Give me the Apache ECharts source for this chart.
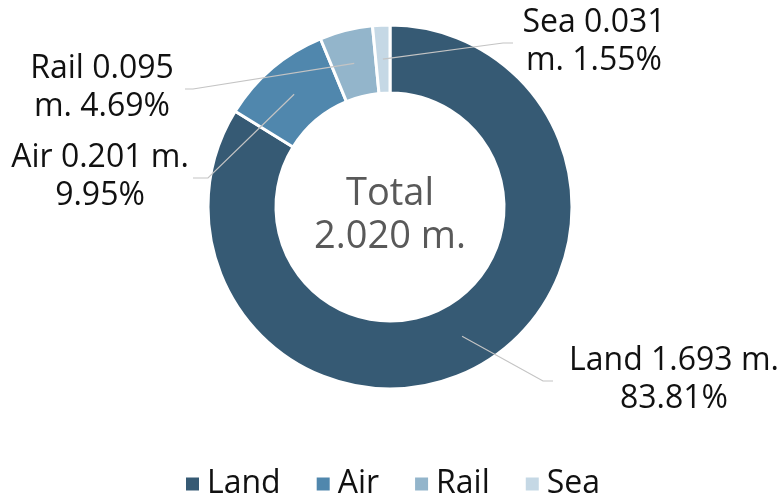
<!DOCTYPE html>
<html>
<head>
<meta charset="utf-8">
<title>Transport share</title>
<script src="https://cdn.jsdelivr.net/npm/echarts@6/dist/echarts.min.js"></script>
<style>
  html, body { margin: 0; padding: 0; background: #fff; }
  #chart { width: 779px; height: 498px; }
</style>
</head>
<body>
<div id="chart"></div>
<script>
// data
const categories = ['Land', 'Air', 'Rail', 'Sea'];
const values = [1.693, 0.201, 0.095, 0.031];
const percents = [83.81, 9.95, 4.69, 1.55];
const unit = 'm.';
// labels that Excel wrapped before the unit
const breakBeforeUnit = [false, false, true, true];

const colors = ['#365a74', '#5087ad', '#93b5cb', '#c5d8e5'];
const FONT = "'Open Sans', 'Noto Sans', sans-serif";

const cx = 390, cy = 207;
const rIn = 114, rOut = 182, rMid = 148;

// where each data label sits (centre of the text block) and where its leader line bends / ends
const labelPos = [
  { x: 674, y: 380, elbowX: 543, endX: 553 },
  { x: 100, y: 177, elbowX: 208, endX: 193 },
  { x: 102, y: 88, elbowX: 193, endX: 185 },
  { x: 594, y: 42, elbowX: 503, endX: 513 }
];

const total = values.reduce((a, b) => a + b, 0);

// mid angle of each slice, clockwise from 12 o'clock
const midAngles = [];
let acc = 0;
values.forEach(v => {
  midAngles.push((acc + v / 2) / total * Math.PI * 2);
  acc += v;
});

const pieData = categories.map((c, i) => ({ name: c, value: values[i] }));

const chart = echarts.init(document.getElementById('chart'));

chart.setOption({
  animation: false,
  color: colors,
  title: {
    text: 'Total\n' + total.toFixed(3) + ' ' + unit,
    left: cx,
    top: 173,
    padding: 0,
    textAlign: 'center',
    textStyle: {
      fontFamily: FONT,
      fontSize: 38,
      fontWeight: 'normal',
      lineHeight: 43,
      color: '#595959'
    }
  },
  legend: {
    data: categories,
    top: 468,
    left: 184,
    padding: 0,
    icon: 'rect',
    itemWidth: 15,
    itemHeight: 15,
    itemGap: 34,
    textStyle: { fontFamily: FONT, fontSize: 32, color: '#111', lineHeight: 32, padding: [0, 0, 0, 2] }
  },
  series: [
    {
      type: 'pie',
      center: [cx, cy],
      radius: [rIn, rOut],
      startAngle: 90,
      clockwise: true,
      silent: true,
      z: 2,
      label: { show: false },
      labelLine: { show: false },
      itemStyle: { borderColor: '#fff', borderWidth: 3 },
      data: pieData
    },
    {
      // invisible copy, only to carry the labels and leader lines from the middle of the ring
      type: 'pie',
      center: [cx, cy],
      radius: [0, rMid],
      startAngle: 90,
      clockwise: true,
      silent: true,
      z: 5,
      avoidLabelOverlap: false,
      itemStyle: { color: 'rgba(0,0,0,0)', borderWidth: 0 },
      label: {
        show: true,
        fontFamily: FONT,
        fontSize: 32,
        lineHeight: 38,
        color: '#111',
        align: 'center',
        formatter: p => {
          const i = p.dataIndex;
          const sep = breakBeforeUnit[i] ? '\n' : ' ';
          const tail = breakBeforeUnit[i] ? ' ' : '\n';
          return p.name + ' ' + values[i].toFixed(3) + sep + unit + tail + percents[i].toFixed(2) + '%';
        }
      },
      labelLine: {
        show: true,
        lineStyle: { color: '#c4c4c4', width: 1.2 }
      },
      labelLayout: params => {
        const i = params.dataIndex;
        const pos = labelPos[i];
        const a = midAngles[i];
        const sx = cx + rMid * Math.sin(a);
        const sy = cy - rMid * Math.cos(a);
        return {
          x: pos.x,
          y: pos.y,
          align: 'center',
          verticalAlign: 'middle',
          labelLinePoints: [[sx, sy], [pos.elbowX, pos.y + 1], [pos.endX, pos.y + 1]]
        };
      },
      data: pieData
    }
  ]
});
</script>
</body>
</html>
